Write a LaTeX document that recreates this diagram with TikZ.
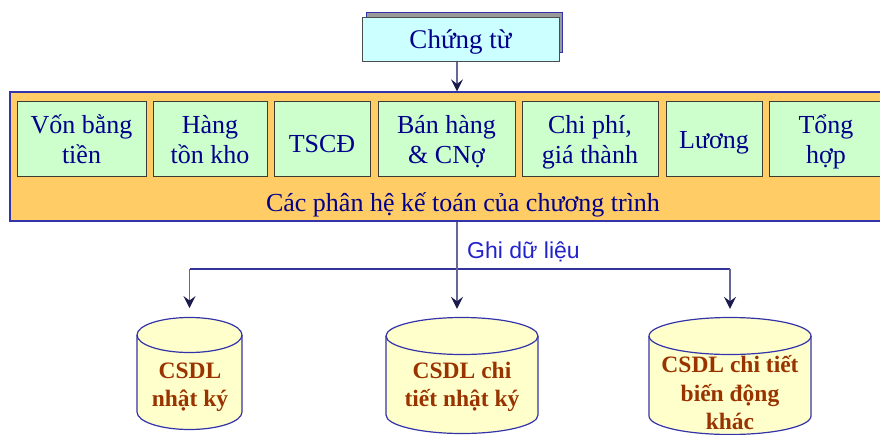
\documentclass[tikz,border=0pt]{standalone}
\usepackage{fontspec}
\setmainfont{Liberation Serif}
\newfontfamily\labelsans{Liberation Sans}
\usetikzlibrary{arrows.meta}

\definecolor{navytext}{RGB}{0,0,140}
\definecolor{paneltan}{RGB}{255,204,102}
\definecolor{mint}{RGB}{204,255,204}
\definecolor{paleaqua}{RGB}{204,255,255}
\definecolor{cream}{RGB}{255,255,204}
\definecolor{rust}{RGB}{153,51,0}
\definecolor{busblue}{RGB}{51,51,153}
\definecolor{stemgray}{RGB}{102,102,153}
\definecolor{edgeblue}{RGB}{51,51,170}
\definecolor{tipnavy}{RGB}{26,26,77}
\definecolor{boxedge}{RGB}{60,60,50}
\definecolor{labelblue}{RGB}{34,34,204}

% fixed line extents so every two-line module sits at the same height
\newcommand\upline{\rule{0pt}{27pt}}
\newcommand\downline{\rule[-8pt]{0pt}{8pt}}

% database drum: centre x, x radius, top-ellipse y, bottom-ellipse y, y radius
\newcommand\drumat[5]{%
  \filldraw[fill=cream, draw=edgeblue, line width=1.2pt]
    (#1-#2,#3) -- (#1-#2,#4)
    arc[start angle=180, end angle=360, x radius=#2pt, y radius=#5pt]
    -- (#1+#2,#3)
    arc[start angle=0, end angle=180, x radius=#2pt, y radius=#5pt] -- cycle;
  \draw[draw=edgeblue, line width=1.2pt]
    (#1+#2,#3) arc[start angle=0, end angle=-180, x radius=#2pt, y radius=#5pt];
}

\tikzset{
  module/.style={draw=boxedge, fill=mint, line width=1pt, text=navytext,
    font=\fontsize{26}{30}\selectfont, align=center, inner sep=0pt,
    minimum height=75pt},
  drumtext/.style={text=rust, font=\fontsize{23.5}{28.5}\selectfont\bfseries,
    align=center, inner sep=0pt},
  stem/.style={draw=stemgray, line width=1.6pt},
  bus/.style={draw=busblue, line width=1.3pt},
  tip/.style={-{Stealth[length=12pt, width=12pt, inset=4.5pt, color=tipnavy]}},
}

\begin{document}
\begin{tikzpicture}[x=1pt, y=-1pt]
  \useasboundingbox (0,0) rectangle (880,434);
  \clip (0,0) rectangle (880,434);

  % source documents, with offset backing sheet
  \filldraw[fill=black!40, draw=edgeblue, line width=1pt] (366,12) rectangle (562,52);
  \node[draw=black!70, fill=paleaqua, line width=1pt, minimum width=197pt,
        minimum height=44pt, inner sep=0pt, text=navytext,
        font=\fontsize{27}{30}\selectfont, text height=19pt, text depth=0pt]
        (src) at (460.5,39) {Chứng từ};

  % accounting subsystems panel
  \node[draw=edgeblue, fill=paneltan, line width=1.2pt, minimum width=874pt,
        minimum height=129pt, inner sep=0pt] (panel) at (447,156.5) {};
  \node[text=navytext, font=\fontsize{26}{30}\selectfont, anchor=base, inner sep=0pt]
        (paneltitle) at (463,211) {Các phân hệ kế toán của chương trình};

  \node[module, minimum width=129pt] (m1) at (81.5,138.5) {\upline Vốn bằng\\tiền\downline};
  \node[module, minimum width=114pt] (m2) at (210,138.5) {\upline Hàng\\tồn kho\downline};
  \node[module, minimum width=96pt, text height=26pt, text depth=0pt]
        (m3) at (322,139) {TSCĐ};
  \node[module, minimum width=137pt] (m4) at (446.5,138.5) {\upline Bán hàng\\\& CNợ\downline};
  \node[module, minimum width=136pt] (m5) at (590,138.5) {\upline Chi phí,\\giá thành\downline};
  \node[module, minimum width=96pt, text height=18pt, text depth=0pt]
        (m6) at (714,139) {Lương};
  \node[module, minimum width=114pt] (m7) at (826,138.5) {\upline Tổng\\hợp\downline};

  \draw[stem, tip] (src.south -| 457,0) -- (panel.north -| 457,0);

  % databases
  \drumat{189.5}{52.5}{335}{412}{17.5}
  \drumat{462}{76}{336}{415}{18.5}
  \drumat{730}{81}{336}{416}{18.5}
  \node[minimum width=105pt, minimum height=112pt, inner sep=0pt] (db1) at (189.5,373.25) {};
  \node[minimum width=152pt, minimum height=116pt, inner sep=0pt] (db2) at (462,376) {};
  \node[minimum width=162pt, minimum height=117pt, inner sep=0pt] (db3) at (730,376.5) {};
  \node[drumtext] (t1) at (190,387) {CSDL\\nhật ký};
  \node[drumtext] (t2) at (462,387) {CSDL chi\\tiết nhật ký};
  \node[drumtext] (t3) at (730,393) {CSDL chi tiết\\biến động\\khác};

  % write path
  \coordinate (split) at (457,269);
  \draw[bus] (db1.north |- split) -- (db3.north |- split);
  \draw[stem, tip, shorten >=9pt] (panel.south -| split) -- (split |- db2.north);
  \draw[stem, tip, shorten >=9pt] (db1.north |- split) -- (db1.north);
  \draw[stem, tip, shorten >=9pt] (db3.north |- split) -- (db3.north);
  \node[text=labelblue, font=\labelsans\fontsize{23}{26}\selectfont,
        anchor=base west, inner sep=0pt] (writelabel) at (467,258) {Ghi dữ liệu};
\end{tikzpicture}
\end{document}
